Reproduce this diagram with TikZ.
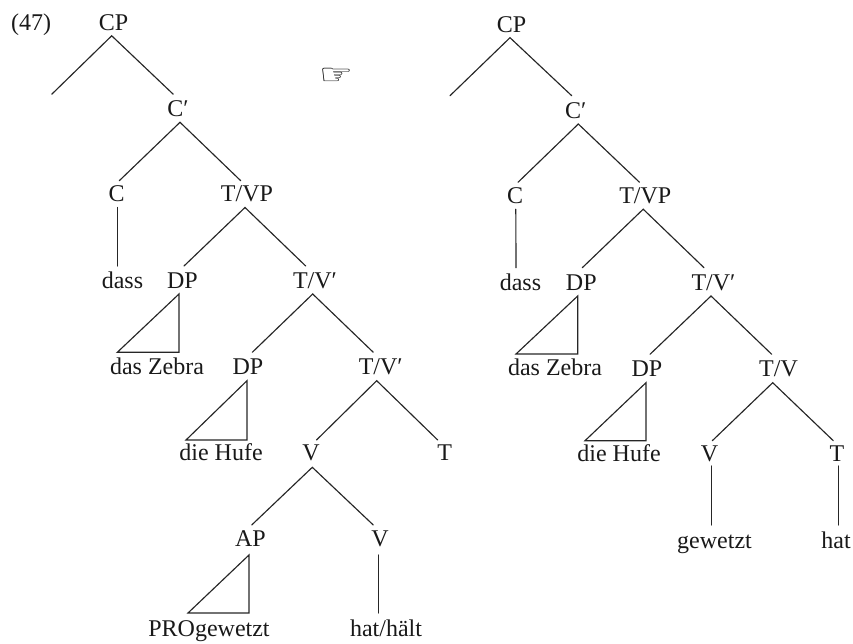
\documentclass[tikz,border=0pt]{standalone}
\usepackage{fontspec}
\setmainfont{Liberation Serif}
\newfontfamily\symb{DejaVu Sans}
\tikzset{
  lab/.style 2 args={anchor=base,inner sep=0pt,outer sep=0pt,text height=#1pt,text depth=#2pt,text=black!90,font=\fontsize{24}{26}\selectfont},
  edge/.style={line width=1.15pt,line cap=round,line join=miter,black!85}
}
\newcommand{\nx}[2]{([xshift=#2pt]#1.north)}
\newcommand{\sx}[2]{([xshift=#2pt]#1.south)}
\begin{document}
\begin{tikzpicture}[x=1pt,y=-1pt]
\useasboundingbox (0,0) rectangle (853,644);
\node[lab={22}{5}] (ex) at (31,30.5) {(47)};
\node[font=\symb\fontsize{30}{30}\selectfont,inner sep=0pt,xscale=1.26,yscale=.95,text=black] (hand) at (336.5,76.5) {☞};
% left tree
\node[lab={22}{5.3}] (cp) at (113.5,30.5) {CP};
\coordinate (spec) at (51.7,94.3);
\node[lab={22.4}{5.6}] (cb) at (178,116.7) {C′};
\node[lab={21.3}{5.5}] (c) at (116.7,202) {C};
\node[lab={21.3}{5.5}] (tvp) at (247,202) {T/VP};
\node[lab={22.3}{5.7}] (dass) at (122.5,288.3) {dass};
\node[lab={22.3}{5.7}] (dp1) at (182.5,288.3) {DP};
\node[lab={22.3}{5.7}] (tvb) at (315,288.3) {T/V′};
\node[lab={21.7}{6.7}] (zeb) at (157,374) {das Zebra};
\node[lab={21.7}{6.7}] (dp2) at (248,374) {DP};
\node[lab={21.7}{6.7}] (tvc) at (380.7,374) {T/V′};
\node[lab={20.3}{7}] (huf) at (221,460.3) {die Hufe};
\node[lab={20.3}{7}] (v) at (311,460.3) {V};
\node[lab={20.7}{7}] (t) at (444.7,460.7) {T};
\node[lab={21.7}{8.3}] (ap) at (250.5,546.7) {AP};
\node[lab={21.7}{8.3}] (v2) at (380,546.7) {V};
\node[lab={23}{5}] (pro) at (209,636) {PROgewetzt};
\node[lab={23}{5}] (hat) at (386,636) {hat/hält};
% right tree
\node[lab={22}{5.4}] (cpr) at (511.5,32.3) {CP};
\coordinate (specr) at (450,95.7);
\node[lab={22.6}{5.7}] (cbr) at (575.8,118.3) {C′};
\node[lab={21.7}{5.2}] (cr) at (515,204) {C};
\node[lab={21.7}{5.2}] (tvpr) at (645.3,204) {T/VP};
\node[lab={22.3}{6}] (dassr) at (520.5,290) {dass};
\node[lab={22.3}{6}] (dpa) at (581.3,290) {DP};
\node[lab={22.3}{6}] (tvbr) at (713.5,290) {T/V′};
\node[lab={21.7}{6.7}] (zebr) at (555,375.7) {das Zebra};
\node[lab={21.7}{6.7}] (dpb) at (647,376) {DP};
\node[lab={21.7}{6.7}] (tvr) at (778.5,376) {T/V};
\node[lab={21}{4.3}] (hufr) at (619,461.7) {die Hufe};
\node[lab={21}{4.3}] (vr) at (709.5,461.7) {V};
\node[lab={21}{4.3}] (tr) at (837,461.7) {T};
\node[lab={23}{5}] (gew) at (714.5,548) {gewetzt};
\node[lab={23}{5}] (hatr) at (836,548) {hat};
\begin{scope}[edge]
% left
\draw (spec) -- \sx{cp}{-1.8} -- \nx{cb}{-4.7};
\draw \nx{c}{2.6} -- \sx{cb}{2} -- \nx{tvp}{-6.3};
\draw \sx{c}{.8} -- \nx{dass}{-5};
\draw \nx{dp1}{1.5} -- \sx{tvp}{-2} -- \nx{tvb}{-9.3};
\draw \sx{dp1}{-3.5} -- \nx{zeb}{-39.7} -- \nx{zeb}{22} -- cycle;
\draw \nx{dp2}{4.3} -- \sx{tvb}{-2.3} -- \nx{tvc}{-7.4};
\draw \sx{dp2}{-1} -- \nx{huf}{-35} -- \nx{huf}{26} -- cycle;
\draw \nx{v}{5.5} -- \sx{tvc}{-4} -- \nx{t}{-7};
\draw \nx{ap}{1.2} -- \sx{v}{1.3} -- \nx{v2}{-6.7};
\draw \sx{ap}{-1.5} -- \nx{pro}{-21} -- \nx{pro}{40} -- cycle;
\draw \sx{v2}{-1.3} -- \nx{hat}{-7.3};
% right
\draw (specr) -- \sx{cpr}{-1.5} -- \nx{cbr}{-4.1};
\draw \nx{cr}{3} -- \sx{cbr}{2.5} -- \nx{tvpr}{-5.8};
\draw \sx{cr}{.8} -- \nx{dassr}{-4.5};
\draw \nx{dpa}{1} -- \sx{tvpr}{-2.1} -- \nx{tvbr}{-9.5};
\draw \sx{dpa}{-3.6} -- \nx{zebr}{-39} -- \nx{zebr}{22.7} -- cycle;
\draw \nx{dpb}{3} -- \sx{tvbr}{-2.5} -- \nx{tvr}{-6.8};
\draw \sx{dpb}{-1} -- \nx{hufr}{-34} -- \nx{hufr}{27} -- cycle;
\draw \nx{vr}{2.8} -- \sx{tvr}{-5.8} -- \nx{tr}{-3.7};
\draw \sx{vr}{2} -- \nx{gew}{-3};
\draw \sx{tr}{1.7} -- \nx{hatr}{2.7};
\end{scope}
\end{tikzpicture}
\end{document}
